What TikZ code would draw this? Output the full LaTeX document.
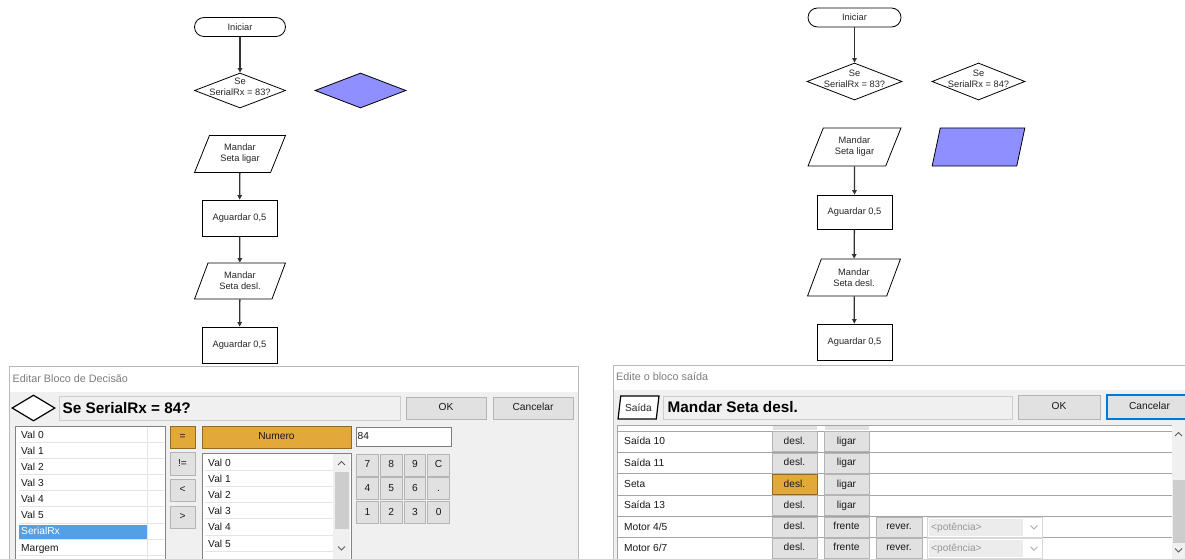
\documentclass[tikz,border=0pt]{standalone}
\usepackage{fontspec}
\setmainfont{Liberation Sans}
\usetikzlibrary{shapes.geometric,arrows.meta}

\definecolor{uibg}{RGB}{240,240,240}
\definecolor{btnfill}{RGB}{225,225,225}
\definecolor{btnline}{RGB}{180,180,180}
\definecolor{orangefill}{RGB}{226,168,58}
\definecolor{orangeline}{RGB}{150,105,35}
\definecolor{selblue}{RGB}{84,160,228}
\definecolor{titlegray}{RGB}{125,125,125}
\definecolor{flowblue}{RGB}{143,143,255}
\definecolor{frameline}{RGB}{185,185,185}
\definecolor{gridline}{RGB}{165,165,165}
\definecolor{rowline}{RGB}{228,228,228}
\definecolor{thumbgray}{RGB}{205,205,205}
\definecolor{focusblue}{RGB}{0,120,215}
\definecolor{flowline}{RGB}{50,50,50}
\definecolor{uitext}{RGB}{25,25,25}
\definecolor{hintgray}{RGB}{150,150,150}
\definecolor{fieldline}{RGB}{205,205,205}
\definecolor{listline}{RGB}{130,130,130}
\definecolor{editline}{RGB}{125,125,125}
\definecolor{comboline}{RGB}{215,215,215}
\definecolor{combofill}{RGB}{236,236,236}
\definecolor{combochev}{RGB}{170,170,170}
\definecolor{chevgray}{RGB}{90,90,90}

\newcommand{\flowfont}{\fontsize{9.3}{11}\selectfont}
\newcommand{\uifont}{\fontsize{10.2}{12}\selectfont}
\newcommand{\wintitlefont}{\fontsize{10.8}{13}\selectfont}
\newcommand{\exprfont}{\fontsize{15.3}{18}\selectfont\bfseries}

\tikzset{
  fshape/.style={draw=black, line width=0.8pt, fill=white, inner sep=0pt,
    font=\flowfont, align=center, text=black!85},
  terminal/.style={fshape, rectangle, rounded corners=9.5pt, minimum height=19pt},
  decision/.style={fshape, diamond},
  iobox/.style={fshape, trapezium, trapezium left angle=64, trapezium right angle=116,
    trapezium stretches=true},
  waitbox/.style={fshape, rectangle},
  flowtext/.style={inner sep=0pt, font=\flowfont, align=center, text=black!85},
  flow/.style={draw=flowline, line width=1.3pt, -{Triangle[length=4.5pt,width=4.5pt]}},
  wintitle/.style={inner sep=0pt, anchor=west, font=\wintitlefont, text=titlegray},
  expr/.style={inner sep=0pt, anchor=west, font=\exprfont, text=black},
  field/.style={rectangle, draw=fieldline, fill=uibg, inner sep=0pt},
  btn/.style={rectangle, draw=btnline, fill=btnfill, inner sep=0pt, line width=0.8pt,
    font=\uifont, text=uitext, text height=7.4pt, text depth=2.2pt},
  obtn/.style={btn, draw=orangeline, fill=orangefill},
  item/.style={inner sep=0pt, anchor=west, font=\uifont, text=uitext,
    text height=7.4pt, text depth=1.2pt},
  listbox/.style={draw=listline, fill=white, line width=0.8pt},
  thin/.style={draw=rowline, line width=0.8pt},
  grid/.style={draw=gridline, line width=1pt},
  chev/.style={draw=chevgray, line width=0.9pt},
}

\begin{document}
\begin{tikzpicture}[x=1pt,y=-1pt]
\useasboundingbox (0,0) rectangle (1185,559);
\fill[white] (0,0) rectangle (1185,559);

% ---------------- first flowchart ----------------
\node[terminal, minimum width=91pt] (startA) at (240,27) {Iniciar};
\node[decision, minimum width=91pt, minimum height=35pt] (ifA) at (240,90.5) {};
\node[flowtext, yshift=4pt] (ifAtext) at (ifA) {Se\\SerialRx = 83?};
\node[decision, fill=flowblue, minimum width=91pt, minimum height=35pt] (newIfA) at (360.5,90.5) {};
\node[iobox, minimum width=91pt, minimum height=37pt] (onA) at (240,154) {Mandar\\Seta ligar};
\node[waitbox, minimum width=75pt, minimum height=36pt] (waitA1) at (239.5,218) {Aguardar 0,5};
\node[iobox, minimum width=91pt, minimum height=36pt] (offA) at (240,281) {Mandar\\Seta desl.};
\node[waitbox, minimum width=75pt, minimum height=36pt] (waitA2) at (239.5,345) {Aguardar 0,5};

\draw[flow] (startA) -- (ifA);
\draw[flow] (onA) -- (waitA1);
\draw[flow] (waitA1) -- (offA);
\draw[flow] (offA) -- (waitA2);

% ---------------- second flowchart ----------------
\node[terminal, minimum width=93pt] (startB) at (854.5,17.5) {Iniciar};
\node[decision, minimum width=95pt, minimum height=37pt] (ifB1) at (854.5,81.5) {};
\node[flowtext, yshift=3pt] (ifB1text) at (ifB1) {Se\\SerialRx = 83?};
\node[decision, minimum width=93pt, minimum height=37pt] (ifB2) at (978.5,81.5) {};
\node[flowtext, yshift=3pt] (ifB2text) at (ifB2) {Se\\SerialRx = 84?};
\node[iobox, minimum width=93pt, minimum height=38pt] (onB) at (854.5,147) {Mandar\\Seta ligar};
\node[iobox, fill=flowblue, minimum width=93pt, minimum height=38pt] (newOutB) at (978.5,147) {\phantom{Mandar}};
\node[waitbox, minimum width=75pt, minimum height=34pt] (waitB1) at (854.5,212) {Aguardar 0,5};
\node[iobox, minimum width=93pt, minimum height=37pt] (offB) at (854,277.5) {Mandar\\Seta desl.};
\node[waitbox, minimum width=75pt, minimum height=36pt] (waitB2) at (854.5,342) {Aguardar 0,5};

\draw[flow] (startB) -- (ifB1);
\draw[flow] (onB) -- (waitB1);
\draw[flow] (waitB1) -- (offB);
\draw[flow] (offB) -- (waitB2);

% ---------------- decision block editor ----------------
\fill[white] (9,366.5) rectangle (578,570);
\fill[uibg] (9.5,392) rectangle (577.5,570);
\draw[frameline, line width=1pt] (9,570) -- (9,366.5) -- (578,366.5) -- (578,570);
\node[wintitle] (titleA) at (12.5,379) {Editar Bloco de Decisão};

\node[decision, line width=1.2pt, minimum width=43pt, minimum height=26pt] (iconA) at (33.5,408) {};
\node[field, minimum width=341pt, minimum height=24pt] (fieldA) at (229.5,408) {};
\node[expr] (exprA) at (62.5,408) {Se SerialRx = 84?};
\node[btn, minimum width=80pt, minimum height=22pt] (okA) at (446,408) {OK};
\node[btn, minimum width=80pt, minimum height=22pt] (cancelA) at (533,408) {Cancelar};

% variable list
\filldraw[listbox] (15,426) rectangle (165,575);
\foreach \yy in {442.5,458.5,474.5,490.5,506.5,523,539.5,555.5}
  \draw[thin] (19,\yy) -- (164,\yy);
\draw[thin] (147.5,427) -- (147.5,570);
\foreach \t [count=\i from 0] in {Val 0,Val 1,Val 2,Val 3,Val 4,Val 5}
  \node[item] (varA\i) at (21,{435+16.1*\i}) {\t};
\node[rectangle, fill=selblue, inner sep=0pt, minimum width=128pt, minimum height=14pt] (selA) at (83,531.5) {};
\node[item, text=white] (serialA) at (21,531.5) {SerialRx};
\node[item] (margemA) at (21,548) {Margem};

% comparison buttons
\node[obtn, minimum width=25pt, minimum height=22pt] (eqA) at (182.5,437) {=};
\node[btn, minimum width=25pt, minimum height=23pt] (neA) at (182.5,463.5) {!=};
\node[btn, minimum width=25pt, minimum height=22pt] (ltA) at (182.5,490) {<};
\node[btn, minimum width=25pt, minimum height=22pt] (gtA) at (182.5,517) {>};
\node[obtn, minimum width=149pt, minimum height=22pt] (numA) at (276.5,437) {Numero};
\node[rectangle, draw=editline, fill=white, line width=0.8pt, inner sep=0pt,
  minimum width=95pt, minimum height=19pt] (valueA) at (403.5,436.5) {};
\node[item] (valueAtext) at (357.5,436.5) {84};

% value list with scrollbar
\filldraw[listbox] (202,453) rectangle (351,575);
\foreach \yy in {470.5,486.5,502.5,518.5,535,551}
  \draw[thin] (205,\yy) -- (333,\yy);
\foreach \t [count=\i from 0] in {Val 0,Val 1,Val 2,Val 3,Val 4,Val 5}
  \node[item] (valA\i) at (208,{463+16.2*\i}) {\t};
\fill[uibg] (333,454) rectangle (350,570);
\fill[thumbgray] (334.5,472) rectangle (348.5,529);
\draw[chev] (338,465) -- (341.5,461.5) -- (345,465);
\draw[chev] (338,546.5) -- (341.5,550) -- (345,546.5);

% keypad
\foreach \lab [count=\k from 0] in {7,8,9,C,4,5,6,.,1,2,3,0}{
  \pgfmathtruncatemacro{\col}{mod(\k,4)}
  \pgfmathtruncatemacro{\row}{div(\k,4)}
  \node[btn, minimum width=21.5pt, minimum height=22pt] (key\k)
    at ({367.5+23.7*\col},{465+23.8*\row}) {\lab};
}

% ---------------- output block editor ----------------
\fill[white] (613,365) rectangle (1190,570);
\fill[uibg] (613.5,390) rectangle (1190,570);
\draw[frameline, line width=1pt] (613,570) -- (613,365) -- (1190,365);
\node[wintitle] (titleB) at (616,377) {Edite o bloco saída};

\node[fshape, trapezium, trapezium left angle=75, trapezium right angle=105,
  trapezium stretches=true, line width=1.2pt, font=\uifont,
  minimum width=41pt, minimum height=23pt] (iconB) at (638.5,407.5) {Saída};
\node[field, minimum width=349pt, minimum height=23pt] (fieldB) at (837.5,407.5) {};
\node[expr] (exprB) at (667.5,407.5) {Mandar Seta desl.};
\node[btn, minimum width=82pt, minimum height=24pt] (okB) at (1059,407) {OK};
\node[btn, draw=focusblue, line width=1.5pt, minimum width=85pt, minimum height=24pt] (cancelB) at (1149.5,407) {Cancelar};

% output table
\fill[white] (617,425) rectangle (1172,570);
\draw[gridline, line width=1pt] (617,570) -- (617,425) -- (1172,425);
\fill[btnfill] (772.5,425.5) rectangle (817,430);
\fill[btnfill] (824.5,425.5) rectangle (869,430);
\foreach \yy in {431,452.3,473.7,495,516.3,537.7,559}
  \draw[grid] (617,\yy) -- (1172,\yy);

\node[item] (rowB1) at (624,441.7) {Saída 10};
\node[btn, minimum width=45pt, minimum height=20pt] (offB1) at (794.5,441.7) {desl.};
\node[btn, minimum width=45pt, minimum height=20pt] (onB1) at (846.5,441.7) {ligar};

\node[item] (rowB2) at (624,463) {Saída 11};
\node[btn, minimum width=45pt, minimum height=20pt] (offB2) at (794.5,463) {desl.};
\node[btn, minimum width=45pt, minimum height=20pt] (onB2) at (846.5,463) {ligar};

\node[item] (rowB3) at (624,484.4) {Seta};
\node[obtn, minimum width=45pt, minimum height=20pt] (offB3) at (794.5,484.4) {desl.};
\node[btn, minimum width=45pt, minimum height=20pt] (onB3) at (846.5,484.4) {ligar};

\node[item] (rowB4) at (624,505.7) {Saída 13};
\node[btn, minimum width=45pt, minimum height=20pt] (offB4) at (794.5,505.7) {desl.};
\node[btn, minimum width=45pt, minimum height=20pt] (onB4) at (846.5,505.7) {ligar};

\foreach \nm/\yy/\id in {Motor 4\slash 5/527/5, Motor 6\slash 7/548.3/6}{
  \node[item] (rowB\id) at (624,\yy) {\nm};
  \node[btn, minimum width=45pt, minimum height=20pt] (offB\id) at (794.5,\yy) {desl.};
  \node[btn, minimum width=45pt, minimum height=20pt] (fwdB\id) at (846.5,\yy) {frente};
  \node[btn, minimum width=46pt, minimum height=20pt] (revB\id) at (899,\yy) {rever.};
  \node[rectangle, draw=comboline, fill=white, inner sep=0pt,
    minimum width=115pt, minimum height=20pt] (powB\id) at (984.5,\yy) {};
  \fill[combofill] (928.5,\yy-8.5) rectangle (1023,\yy+8.5);
  \node[item, text=hintgray] (powB\id text) at (931,\yy) {<potência>};
  \draw[draw=combochev, line width=0.8pt] (1030.5,\yy-1.5) -- (1034,\yy+2) -- (1037.5,\yy-1.5);
}

% table scrollbar
\fill[uibg] (1172.5,425.5) rectangle (1190,570);
\fill[thumbgray] (1173,480) rectangle (1186,543);
\draw[chev] (1175,436) -- (1178.5,432.5) -- (1182,436);
\draw[chev] (1175,548.5) -- (1178.5,552) -- (1182,548.5);

\end{tikzpicture}
\end{document}
